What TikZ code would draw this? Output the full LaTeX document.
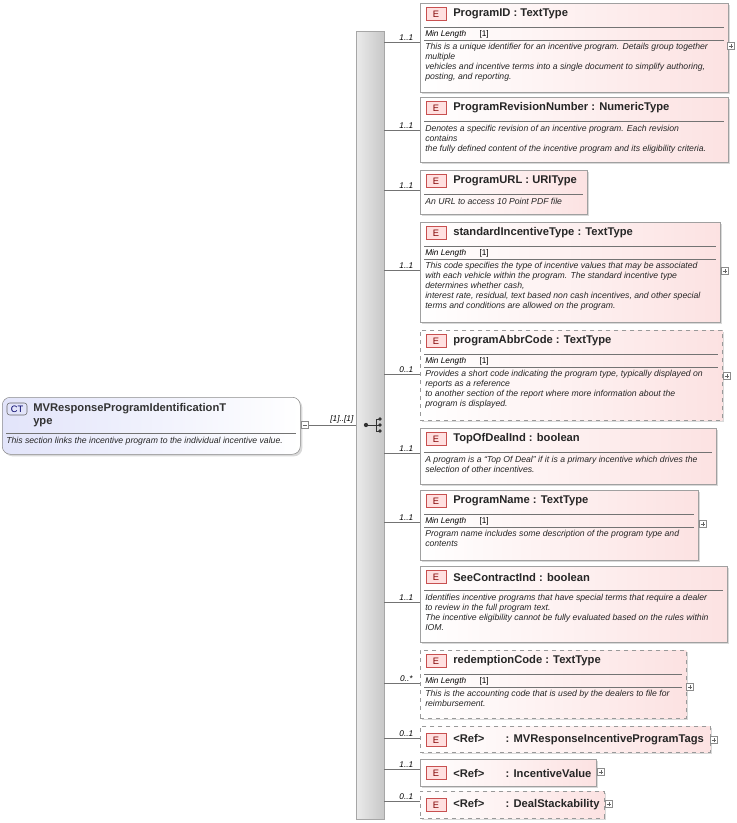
\documentclass[tikz,border=0pt]{standalone}
\usepackage{fontspec}
\setmainfont{Liberation Sans}
\usetikzlibrary{shadows,calc}
\definecolor{epink}{RGB}{252,226,226}
\definecolor{eborder}{RGB}{160,160,160}
\definecolor{bred}{RGB}{200,80,80}
\definecolor{ctblue}{RGB}{226,228,250}
\tikzset{
 ebox/.style={draw=eborder,anchor=north west,left color=white,right color=epink,inner sep=0pt,
   drop shadow={shadow xshift=1.5pt,shadow yshift=-1.5pt,fill=black!25,opacity=.6}},
 opt/.style={dashed,draw=black!40},
 badge/.style={draw=bred,fill=red!12,minimum width=15pt,minimum height=10pt,inner sep=0pt,font=\fontsize{7}{8}\selectfont,text=red!50!black},
 etitle/.style={anchor=west,inner sep=0pt,font=\bfseries\fontsize{8.4}{9}\selectfont,text=black!85},
 sep/.style={draw=black!55,line width=0.4pt},
 ml/.style={anchor=west,inner sep=0pt,font=\itshape\fontsize{6.2}{7}\selectfont},
 desc/.style={anchor=north west,inner sep=0pt,align=left,font=\itshape\fontsize{6.5}{7.5}\selectfont,text=black!85},
 card/.style={anchor=south,inner sep=1pt,font=\itshape\fontsize{6.2}{7}\selectfont},
 conn/.style={draw=black!55,line width=0.4pt},
 plusbox/.style={draw=black!45,fill=white,minimum size=5.5pt,inner sep=0pt},
}
\newcommand{\elbox}[8]{%
 \begin{scope}[shift={(0,#2)}]
 \node[ebox,#5,minimum width={(#4-420)*0.75pt},minimum height={(#3-#2)*0.75pt}] (#1) at (420,0) {};
 \node[badge] at (436,11) {E};
 \node[etitle] at (453,11) {#6};
 \draw[sep] (424,24) -- (#4-4,24);
 \def\tmpml{#7}\ifx\tmpml\empty
   \node[desc] at (425,28) {#8};
 \else
   \node[ml] at (425,31) {Min Length\hspace{10pt}\upshape[1]};
   \draw[sep] (424,37) -- (#4-4,37);
   \node[desc] at (425,40) {#8};
 \fi
 \end{scope}}
\newcommand{\refbox}[6]{%
 \begin{scope}[shift={(0,#2)}]
 \node[ebox,#5,minimum width={(#4-420)*0.75pt},minimum height={(#3-#2)*0.75pt}] (#1) at (420,0) {};
 \node[badge] at (436,14) {E};
 \node[etitle] at (453,14) {<Ref>\hspace{16pt}: #6};
 \end{scope}}
\newcommand{\conn}[3]{%
 \coordinate (c#1) at (384,#2);
 \draw[conn] (c#1) -- (#1.west |- c#1) node[card,pos=0.62] {#3};}
\newcommand{\plusat}[3]{\node[plusbox] (#1) at (#2,#3) {}; \draw[black!60,line width=0.4pt] ($(#1)+(-1.8pt,0)$) -- ($(#1)+(1.8pt,0)$) ($(#1)+(0,-1.8pt)$) -- ($(#1)+(0,1.8pt)$);}
\newcommand{\minusat}[3]{\node[plusbox] (#1) at (#2,#3) {}; \draw[black!60,line width=0.4pt] ($(#1)+(-1.8pt,0)$) -- ($(#1)+(1.8pt,0)$);}
\begin{document}
\begin{tikzpicture}[x=0.75pt,y=-0.75pt]
\useasboundingbox (0,0) rectangle (736,823);
% sequence bar
\node[draw=black!35,anchor=north west,left color=black!8,right color=black!22,minimum width={28*0.75pt},minimum height={788*0.75pt},inner sep=0pt] (seq) at (356,31) {};
% compositor icon
\draw[black!80,line width=0.6pt] (366,425) -- (376,425) (376,419) -- (376,431) (376,425) -- (380,425) (376,419) -- (380,419) (376,431) -- (380,431);
\fill[black!80] (366,425) circle (1.6pt) (380,419) circle (1.4pt) (380,425) circle (1.4pt) (380,431) circle (1.4pt);
% CT box
\node[draw=black!45,rounded corners=6pt,anchor=north west,left color=ctblue,right color=white,minimum width={298*0.75pt},minimum height={57*0.75pt},inner sep=0pt,drop shadow={shadow xshift=1.5pt,shadow yshift=-1.5pt,fill=black!25,opacity=.6}] (ct) at (2,397) {};
\node[draw=black!60,fill=ctblue,rounded corners=2pt,minimum width=15pt,minimum height=9pt,inner sep=0pt,font=\fontsize{7}{8}\selectfont,text=blue!40!black] at (17,409) {CT};
\node[anchor=north west,inner sep=0pt,align=left,font=\bfseries\fontsize{8.4}{10}\selectfont,text=black!80] at (33,403) {MVResponseProgramIdentificationT\\ype};
\draw[sep] (6,433) -- (296,433);
\node[desc] at (6,437) {This section links the incentive program to the individual incentive value.};
\minusat{ctm}{305}{425}
\draw[conn] (ctm.east) -- (seq.west |- ctm) node[card,pos=0.7] {[1]..[1]};
% elements
\elbox{e1}{3}{92}{728}{}{ProgramID : TextType}{ml}{This is a unique identifier for an incentive program. Details group together\\multiple\\vehicles and incentive terms into a single document to simplify authoring,\\posting, and reporting.}
\conn{e1}{42}{1..1}\plusat{p1}{731}{46}
\elbox{e2}{97}{162}{728}{}{ProgramRevisionNumber : NumericType}{}{Denotes a specific revision of an incentive program. Each revision\\contains\\the fully defined content of the incentive program and its eligibility criteria.}
\conn{e2}{130}{1..1}
\elbox{e3}{170}{214}{587}{}{ProgramURL : URIType}{}{An URL to access 10 Point PDF file}
\conn{e3}{190}{1..1}
\elbox{e4}{222}{322}{720}{}{standardIncentiveType : TextType}{ml}{This code specifies the type of incentive values that may be associated\\with each vehicle within the program. The standard incentive type\\determines whether cash,\\interest rate, residual, text based non cash incentives, and other special\\terms and conditions are allowed on the program.}
\conn{e4}{270}{1..1}\plusat{p4}{725}{271}
\elbox{e5}{330}{420}{722}{opt}{programAbbrCode : TextType}{ml}{Provides a short code indicating the program type, typically displayed on\\reports as a reference\\to another section of the report where more information about the\\program is displayed.}
\conn{e5}{374}{0..1}\plusat{p5}{727}{376}
\elbox{e6}{428}{484}{716}{}{TopOfDealInd : boolean}{}{A program is a ``Top Of Deal'' if it is a primary incentive which drives the\\selection of other incentives.}
\conn{e6}{453}{1..1}
\elbox{e7}{490}{560}{698}{}{ProgramName : TextType}{ml}{Program name includes some description of the program type and\\contents}
\conn{e7}{522}{1..1}\plusat{p7}{703}{524}
\elbox{e8}{566}{642}{727}{}{SeeContractInd : boolean}{}{Identifies incentive programs that have special terms that require a dealer\\to review in the full program text.\\The incentive eligibility cannot be fully evaluated based on the rules within\\IOM.}
\conn{e8}{602}{1..1}
\elbox{e9}{650}{718}{686}{opt}{redemptionCode : TextType}{ml}{This is the accounting code that is used by the dealers to file for\\reimbursement.}
\conn{e9}{683}{0..*}\plusat{p9}{690}{687}
\refbox{e10}{726}{752}{710}{opt}{MVResponseIncentiveProgramTags}
\conn{e10}{738}{0..1}\plusat{p10}{714}{740}
\refbox{e11}{759}{786}{596}{}{IncentiveValue}
\conn{e11}{769}{1..1}\plusat{p11}{601}{772}
\refbox{e12}{791}{818}{604}{opt}{DealStackability}
\conn{e12}{801}{0..1}\plusat{p12}{609}{804}
\end{tikzpicture}
\end{document}
